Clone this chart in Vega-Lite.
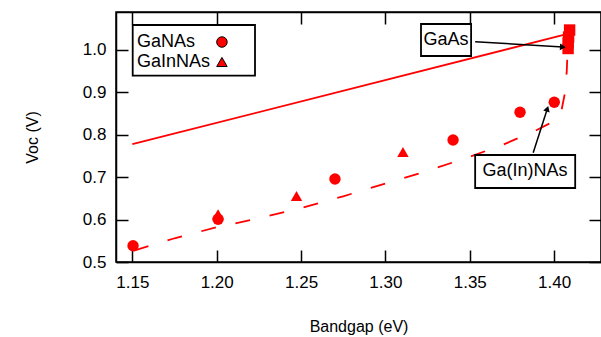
{
  "$schema": "https://vega.github.io/schema/vega-lite/v6.json",
  "width": 485,
  "height": 250,
  "autosize": "none",
  "padding": {"left": 116, "top": 12, "right": 0, "bottom": 75},
  "config": {
    "font": "Liberation Sans",
    "view": {"stroke": "black", "strokeWidth": 1.5},
    "axis": {"grid": false, "domainColor": "black", "tickColor": "black", "domainWidth": 1.5, "tickWidth": 1.5, "labelColor": "black", "titleColor": "black", "labelFont": "Liberation Sans", "titleFont": "Liberation Sans", "labelFontSize": 17, "titleFontSize": 16, "titleFontWeight": "normal"}
  },
  "datasets": {
    "pts": [
      {"bandgap": 1.1504, "voc": 0.5385, "material": "GaNAs"},
      {"bandgap": 1.2008, "voc": 0.613, "material": "GaInNAs"},
      {"bandgap": 1.2008, "voc": 0.6007, "material": "GaNAs"},
      {"bandgap": 1.2473, "voc": 0.6557, "material": "GaInNAs"},
      {"bandgap": 1.2701, "voc": 0.6957, "material": "GaNAs"},
      {"bandgap": 1.3104, "voc": 0.7594, "material": "GaInNAs"},
      {"bandgap": 1.3401, "voc": 0.7877, "material": "GaNAs"},
      {"bandgap": 1.3798, "voc": 0.853, "material": "GaNAs"},
      {"bandgap": 1.4001, "voc": 0.8766, "material": "GaNAs"},
      {"bandgap": 1.4092, "voc": 1.0471, "material": "GaAs"},
      {"bandgap": 1.4086, "voc": 1.0306, "material": "GaAs"},
      {"bandgap": 1.4083, "voc": 1.0165, "material": "GaAs"},
      {"bandgap": 1.4083, "voc": 1.0035, "material": "GaAs"}
    ],
    "limit": [
      {"bandgap": 1.15, "voc": 0.778},
      {"bandgap": 1.408, "voc": 1.038}
    ],
    "model": [
      {"bandgap": 1.151, "voc": 0.527},
      {"bandgap": 1.175, "voc": 0.556},
      {"bandgap": 1.2, "voc": 0.582},
      {"bandgap": 1.225, "voc": 0.603},
      {"bandgap": 1.25, "voc": 0.627},
      {"bandgap": 1.275, "voc": 0.655},
      {"bandgap": 1.3, "voc": 0.685},
      {"bandgap": 1.325, "voc": 0.715},
      {"bandgap": 1.35, "voc": 0.748},
      {"bandgap": 1.37, "voc": 0.777},
      {"bandgap": 1.39, "voc": 0.812},
      {"bandgap": 1.4, "voc": 0.832},
      {"bandgap": 1.404, "voc": 0.85},
      {"bandgap": 1.4065, "voc": 0.9},
      {"bandgap": 1.4075, "voc": 0.95},
      {"bandgap": 1.408, "voc": 1.0},
      {"bandgap": 1.4085, "voc": 1.03}
    ],
    "boxes": [
      {"x1": 1.1502, "x2": 1.2227, "y1": 1.0589, "y2": 0.9394, "kind": "legend"},
      {"x1": 1.3211, "x2": 1.3508, "y1": 1.0613, "y2": 0.9858, "kind": "note"},
      {"x1": 1.3532, "x2": 1.4125, "y1": 0.7523, "y2": 0.6745, "kind": "note"}
    ],
    "legendText": [
      {"bandgap": 1.1527, "voc": 1.0188, "label": "GaNAs"},
      {"bandgap": 1.1527, "voc": 0.9717, "label": "GaInNAs"}
    ],
    "legendSym": [
      {"bandgap": 1.2031, "voc": 1.0188, "material": "GaNAs"},
      {"bandgap": 1.2031, "voc": 0.9717, "material": "GaInNAs"}
    ],
    "noteText": [
      {"bandgap": 1.3359, "voc": 1.0236, "label": "GaAs"},
      {"bandgap": 1.3828, "voc": 0.714, "label": "Ga(In)NAs"}
    ],
    "arrows": [
      {"x1": 1.3532, "y1": 1.0196, "x2": 1.4052, "y2": 1.007, "target": "GaAs"},
      {"x1": 1.3876, "y1": 0.7579, "x2": 1.396, "y2": 0.8615, "target": "Ga(In)NAs"}
    ]
  },
  "resolve": {"axis": {"x": "independent", "y": "independent"}},
  "layer": [
    {
      "data": {"name": "limit"},
      "mark": {"type": "line", "color": "#ff0000", "strokeWidth": 1.8},
      "encoding": {
        "x": {"field": "bandgap", "type": "quantitative", "scale": {"domain": [1.1403, 1.4278], "nice": false, "zero": false},
          "axis": {"orient": "bottom", "title": "Bandgap (eV)", "values": [1.15, 1.2, 1.25, 1.3, 1.35, 1.4], "format": ".2f", "tickSize": -12, "labelPadding": 24, "titlePadding": 28, "domain": true}},
        "y": {"field": "voc", "type": "quantitative", "scale": {"domain": [0.5, 1.0896], "nice": false, "zero": false},
          "axis": {"orient": "left", "title": "Voc (V)", "values": [0.5, 0.6, 0.7, 0.8, 0.9, 1.0], "format": ".1f", "tickSize": -12, "labelPadding": 22, "titlePadding": 42}}
      }
    },
    {
      "data": {"name": "model"},
      "mark": {"type": "line", "color": "#ff0000", "strokeWidth": 1.8, "strokeDash": [15, 20]},
      "encoding": {
        "x": {"field": "bandgap", "type": "quantitative", "scale": {"domain": [1.1403, 1.4278], "nice": false, "zero": false},
          "axis": {"orient": "top", "title": null, "labels": false, "values": [1.15, 1.2, 1.25, 1.3, 1.35, 1.4], "tickSize": -12}},
        "y": {"field": "voc", "type": "quantitative", "scale": {"domain": [0.5, 1.0896], "nice": false, "zero": false},
          "axis": {"orient": "right", "title": null, "labels": false, "values": [0.5, 0.6, 0.7, 0.8, 0.9, 1.0], "tickSize": -12}}
      }
    },
    {
      "data": {"name": "pts"},
      "mark": {"type": "point", "filled": true, "color": "#ff0000", "opacity": 1, "size": 130},
      "encoding": {
        "x": {"field": "bandgap", "type": "quantitative", "axis": null},
        "y": {"field": "voc", "type": "quantitative", "axis": null},
        "shape": {"field": "material", "type": "nominal", "scale": {"domain": ["GaNAs", "GaInNAs", "GaAs"], "range": ["circle", "triangle-up", "square"]}, "legend": null}
      }
    },
    {
      "data": {"name": "boxes"},
      "mark": {"type": "rect", "fill": "white", "stroke": "black", "strokeWidth": 1.8},
      "encoding": {
        "x": {"field": "x1", "type": "quantitative", "axis": null},
        "x2": {"field": "x2"},
        "y": {"field": "y1", "type": "quantitative", "axis": null},
        "y2": {"field": "y2"}
      }
    },
    {
      "data": {"name": "legendText"},
      "mark": {"type": "text", "align": "left", "baseline": "middle", "fontSize": 18, "color": "black", "font": "Liberation Sans"},
      "encoding": {
        "x": {"field": "bandgap", "type": "quantitative", "axis": null},
        "y": {"field": "voc", "type": "quantitative", "axis": null},
        "text": {"field": "label"}
      }
    },
    {
      "data": {"name": "legendSym"},
      "mark": {"type": "point", "filled": true, "fill": "#ff0000", "stroke": "black", "strokeWidth": 1, "opacity": 1, "size": 110},
      "encoding": {
        "x": {"field": "bandgap", "type": "quantitative", "axis": null},
        "y": {"field": "voc", "type": "quantitative", "axis": null},
        "shape": {"field": "material", "type": "nominal", "scale": {"domain": ["GaNAs", "GaInNAs", "GaAs"], "range": ["circle", "triangle-up", "square"]}, "legend": null}
      }
    },
    {
      "data": {"name": "noteText"},
      "mark": {"type": "text", "align": "center", "baseline": "middle", "fontSize": 18, "color": "black", "font": "Liberation Sans"},
      "encoding": {
        "x": {"field": "bandgap", "type": "quantitative", "axis": null},
        "y": {"field": "voc", "type": "quantitative", "axis": null},
        "text": {"field": "label"}
      }
    },
    {
      "data": {"name": "arrows"},
      "mark": {"type": "rule", "color": "black", "strokeWidth": 1.5},
      "encoding": {
        "x": {"field": "x1", "type": "quantitative", "axis": null},
        "y": {"field": "y1", "type": "quantitative", "axis": null},
        "x2": {"field": "x2"},
        "y2": {"field": "y2"}
      }
    },
    {
      "data": {"name": "arrows"},
      "transform": [{"filter": "datum.target == 'GaAs'"}],
      "mark": {"type": "point", "shape": "triangle-up", "filled": true, "color": "black", "opacity": 1, "size": 45, "angle": 93.5},
      "encoding": {
        "x": {"field": "x2", "type": "quantitative", "axis": null},
        "y": {"field": "y2", "type": "quantitative", "axis": null}
      }
    },
    {
      "data": {"name": "arrows"},
      "transform": [{"filter": "datum.target == 'Ga(In)NAs'"}],
      "mark": {"type": "point", "shape": "triangle-up", "filled": true, "color": "black", "opacity": 1, "size": 45, "angle": 17.8},
      "encoding": {
        "x": {"field": "x2", "type": "quantitative", "axis": null},
        "y": {"field": "y2", "type": "quantitative", "axis": null}
      }
    }
  ]
}
